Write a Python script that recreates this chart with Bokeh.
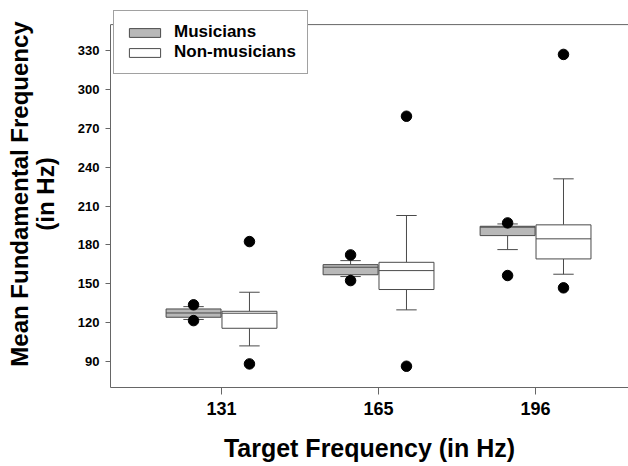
from bokeh.plotting import figure
from bokeh.models import Range1d, FixedTicker, Legend, LegendItem, Span
from bokeh.embed import file_html
from bokeh.resources import INLINE

# ---- data (Hz) ----
categories = ["131", "165", "196"]
cat_pos = [1, 2, 3]

mus_lower = [122.5, 155.6, 176.4]
mus_q1 = [124.2, 157.0, 187.2]
mus_median = [127.5, 162.8, 193.7]
mus_q3 = [130.6, 164.8, 194.4]
mus_upper = [132.4, 167.9, 196.2]
mus_out_hi = [133.8, 172.3, 197.0]
mus_out_lo = [121.6, 152.5, 156.4]

non_lower = [102.1, 129.9, 157.4]
non_q1 = [115.7, 145.6, 169.2]
non_median = [127.3, 160.2, 184.7]
non_q3 = [128.8, 166.6, 195.5]
non_upper = [143.5, 202.7, 231.0]
non_out_hi = [182.6, 279.3, 327.0]
non_out_lo = [88.2, 86.4, 146.9]

y_ticks = [90, 120, 150, 180, 210, 240, 270, 300, 330]
y_axis_min, y_axis_max = 70, 350

# ---- style ----
OFFSET = 0.178
BOX_W = 0.35
CAP_W = 0.13
LINE = "#4a4a4a"
AXIS = "#666666"
FONT = "Liberation Sans"

p = figure(width=628, height=466, output_backend="svg", toolbar_location=None,
           x_range=Range1d(0.293, 3.592), y_range=Range1d(70, 368.6),
           min_border_left=110, min_border_right=0, min_border_top=0,
           min_border_bottom=79)
p.outline_line_color = None
p.grid.visible = False
p.background_fill_color = "white"
p.border_fill_color = "white"

# top frame line
p.add_layout(Span(location=y_axis_max, dimension="width", line_color=AXIS, line_width=1))


def group(lower, q1, med, q3, upper, hi, lo, off, fill):
    xs = [c + off for c in cat_pos]
    p.segment(x0=xs, y0=q3, x1=xs, y1=upper, line_color=LINE, line_width=1)
    p.segment(x0=xs, y0=q1, x1=xs, y1=lower, line_color=LINE, line_width=1)
    p.segment(x0=[x - CAP_W / 2 for x in xs], y0=upper,
              x1=[x + CAP_W / 2 for x in xs], y1=upper, line_color=LINE, line_width=1)
    p.segment(x0=[x - CAP_W / 2 for x in xs], y0=lower,
              x1=[x + CAP_W / 2 for x in xs], y1=lower, line_color=LINE, line_width=1)
    r = p.vbar(x=xs, width=BOX_W, bottom=q1, top=q3, fill_color=fill,
               line_color=LINE, line_width=1)
    p.segment(x0=[x - BOX_W / 2 for x in xs], y0=med,
              x1=[x + BOX_W / 2 for x in xs], y1=med, line_color=LINE, line_width=1)
    p.scatter(x=xs + xs, y=hi + lo, size=10.5, color="black")
    return r


r_mus = group(mus_lower, mus_q1, mus_median, mus_q3, mus_upper,
              mus_out_hi, mus_out_lo, -OFFSET, "#b8b8b8")
r_non = group(non_lower, non_q1, non_median, non_q3, non_upper,
              non_out_hi, non_out_lo, OFFSET, "white")

# axes
xa = p.xaxis[0]
xa.ticker = FixedTicker(ticks=cat_pos)
xa.major_label_overrides = {c: l for c, l in zip(cat_pos, categories)}
xa.minor_tick_line_color = None
xa.major_tick_out = 7
xa.major_tick_in = 0
xa.major_label_standoff = 7
xa.major_label_text_font = FONT
xa.major_label_text_font_style = "bold"
xa.major_label_text_font_size = "18px"
xa.major_label_text_color = "black"
xa.axis_label = "Target Frequency (in Hz)"
xa.axis_label_text_font = FONT
xa.axis_label_text_font_style = "bold"
xa.axis_label_text_font_size = "25px"
xa.axis_label_text_color = "black"
xa.axis_label_standoff = 16
xa.axis_line_color = AXIS
xa.major_tick_line_color = AXIS

ya = p.yaxis[0]
ya.ticker = FixedTicker(ticks=y_ticks)
ya.bounds = (y_axis_min, y_axis_max)
ya.minor_tick_line_color = None
ya.major_tick_out = 5
ya.major_tick_in = 0
ya.major_label_standoff = 6
ya.major_label_text_font = FONT
ya.major_label_text_font_style = "bold"
ya.major_label_text_font_size = "13px"
ya.major_label_text_color = "black"
ya.axis_label = "Mean Fundamental Frequency\n(in Hz)"
ya.axis_label_text_font = FONT
ya.axis_label_text_font_style = "bold"
ya.axis_label_text_font_size = "24px"
ya.axis_label_text_color = "black"
ya.axis_label_text_line_height = 0.95
ya.axis_label_standoff = 16
ya.axis_line_color = AXIS
ya.major_tick_line_color = AXIS

legend = Legend(items=[LegendItem(label="Musicians", renderers=[r_mus]),
                       LegendItem(label="Non-musicians", renderers=[r_non])],
                location=(3, 313), orientation="vertical")
legend.glyph_width = 39
legend.glyph_height = 11
legend.label_standoff = 10
legend.padding = 11
legend.spacing = 0
legend.label_height = 20
legend.label_text_font = FONT
legend.label_text_font_style = "bold"
legend.label_text_font_size = "17px"
legend.label_text_color = "black"
legend.border_line_color = "#444444"
legend.border_line_width = 1
legend.background_fill_color = "white"
legend.background_fill_alpha = 1
p.add_layout(legend, "center")

open("out.html", "w").write(file_html(p, INLINE))
